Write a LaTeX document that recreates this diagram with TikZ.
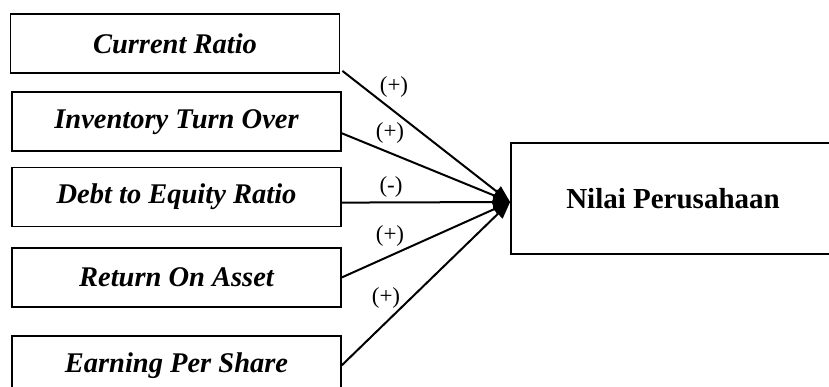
\documentclass[tikz,border=0pt]{standalone}
\usepackage{fontspec}
\setmainfont{Liberation Serif}
\usetikzlibrary{arrows.meta,positioning}

\begin{document}
\begin{tikzpicture}[
    x=1pt, y=-1pt,
    >={Triangle[length=17pt,width=13pt]},
    var/.style={draw, line width=1.8pt, minimum width=329pt, minimum height=59pt,
                inner sep=0pt, font=\fontsize{28.5}{30}\selectfont\bfseries\itshape},
    dep/.style={draw, line width=1.8pt, minimum width=324pt, minimum height=111pt,
                inner sep=0pt, font=\fontsize{29}{31}\selectfont\bfseries},
    lbl/.style={font=\fontsize{23}{25}\selectfont, inner sep=0pt},
    arr/.style={->, line width=2pt}
]
\useasboundingbox (0,0) rectangle (829,387);

% --- independent variables ---
\node[var] (cr) at (175,43.5) {Current Ratio};
\node[var, below=17.5pt of cr, xshift=1.5pt] (ito) {Inventory Turn Over};
\node[var, below=14.5pt of ito] (der) {Debt to Equity Ratio};
\node[var, below=19.5pt of der] (roa) {Return On Asset};
\node[var, below=27pt of roa] (eps) {Earning Per Share};

% --- dependent variable ---
\node[dep] (nilai) at (673,198.5) {\raisebox{-8pt}{Nilai Perusahaan}};
\coordinate (tip) at ([yshift=-3.5pt]nilai.west);

% --- arrows ---
\draw[arr] ([yshift=3pt, xshift=2pt]cr.south east) -- (tip);
\draw[arr] ([yshift=-11.5pt]ito.east) -- (tip);
\draw[arr] ([yshift=-5.5pt]der.east) -- (tip);
\draw[arr] (roa.east) -- (tip);
\draw[arr] ([yshift=0pt]eps.east) -- (tip);

% signs
\node[lbl] (s1) at (394,87) {(+)};
\node[lbl] (s2) at (390,133) {(+)};
\node[lbl] (s3) at (391,187) {(-)};
\node[lbl] (s4) at (390,236) {(+)};
\node[lbl] (s5) at (386,298) {(+)};

\end{tikzpicture}
\end{document}
